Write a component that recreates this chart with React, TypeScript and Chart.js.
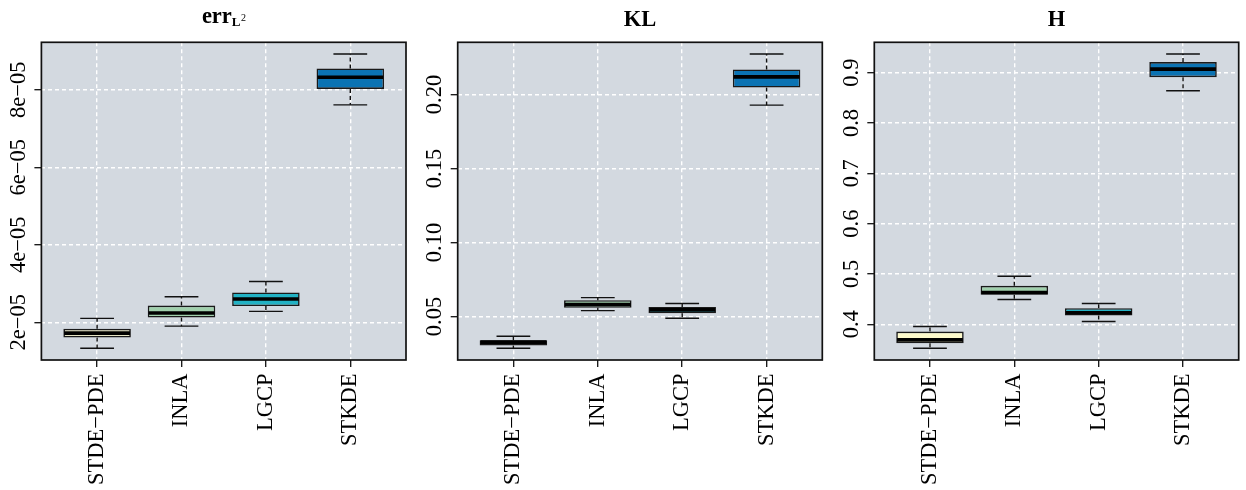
import React, { useEffect, useRef } from 'react';
import { Chart, registerables } from 'chart.js';

Chart.register(...registerables);

const SERIF = '"Liberation Serif", "Times New Roman", Times, serif';

const categories = ['STDE−PDE', 'INLA', 'LGCP', 'STKDE'];
const boxColors = ['#FDFACB', '#A0D0AC', '#22B2C4', '#0B73B3'];

// Panel 1: err_{L^2}
const errLow = [1.33e-5, 1.9e-5, 2.28e-5, 7.61e-5];
const errQ1 = [1.61e-5, 2.12e-5, 2.42e-5, 8.02e-5];
const errMedian = [1.72e-5, 2.24e-5, 2.6e-5, 8.32e-5];
const errQ3 = [1.83e-5, 2.43e-5, 2.77e-5, 8.55e-5];
const errHigh = [2.1e-5, 2.66e-5, 3.05e-5, 8.92e-5];
const errTicks = [2e-5, 4e-5, 6e-5, 8e-5];
const errTickLabels = ['2e−05', '4e−05', '6e−05', '8e−05'];

// Panel 2: KL
const klLow = [0.0286, 0.054, 0.0489, 0.1928];
const klQ1 = [0.0304, 0.0559, 0.0522, 0.2047];
const klMedian = [0.0327, 0.0581, 0.0545, 0.2119];
const klQ3 = [0.034, 0.061, 0.0565, 0.2169];
const klHigh = [0.0367, 0.0628, 0.0588, 0.2273];
const klTicks = [0.05, 0.1, 0.15, 0.2];
const klTickLabels = ['0.05', '0.10', '0.15', '0.20'];

// Panel 3: H
const hLow = [0.3523, 0.4491, 0.4054, 0.864];
const hQ1 = [0.3622, 0.4584, 0.4173, 0.891];
const hMedian = [0.369, 0.463, 0.4227, 0.907];
const hQ3 = [0.3855, 0.4763, 0.4318, 0.921];
const hHigh = [0.3954, 0.4954, 0.4412, 0.937];
const hTicks = [0.4, 0.5, 0.6, 0.7, 0.8, 0.9];
const hTickLabels = ['0.4', '0.5', '0.6', '0.7', '0.8', '0.9'];

const titleErrMain = 'err';
const titleErrSub = 'L';
const titleErrSup = '2';
const titleKL = 'KL';
const titleH = 'H';

const panels = [
  { low: errLow, q1: errQ1, median: errMedian, q3: errQ3, high: errHigh, ticks: errTicks, tickLabels: errTickLabels,
    title: titleErrMain, sub: titleErrSub, sup: titleErrSup, left: 0, width: 415, axisW: 41.4, padR: 9 },
  { low: klLow, q1: klQ1, median: klMedian, q3: klQ3, high: klHigh, ticks: klTicks, tickLabels: klTickLabels,
    title: titleKL, sub: '', sup: '', left: 415, width: 416, axisW: 42.7, padR: 8.7 },
  { low: hLow, q1: hQ1, median: hMedian, q3: hQ3, high: hHigh, ticks: hTicks, tickLabels: hTickLabels,
    title: titleH, sub: '', sup: '', left: 831, width: 415, axisW: 43.3, padR: 7.3 },
];

const H = 490;
const PLOT_TOP = 42.3;
const PLOT_BOTTOM = 360;
const LABEL_FONT = `22.5px ${SERIF}`;

function makePlugin(p: any) {
  return {
    id: 'boxplotDecor',
    beforeDraw(chart: any) {
      const { ctx, chartArea: a } = chart;
      ctx.save();
      ctx.fillStyle = '#D3D9E0';
      ctx.fillRect(a.left, a.top, a.right - a.left, a.bottom - a.top);
      ctx.restore();
    },
    afterDatasetsDraw(chart: any) {
      const { ctx } = chart;
      const xs = chart.scales.x;
      const ys = chart.scales.y;
      ctx.save();
      categories.forEach((_, i) => {
        const xc = xs.getPixelForValue(i + 1);
        const capL = xs.getPixelForValue(i + 1 - 0.2);
        const capR = xs.getPixelForValue(i + 1 + 0.2);
        const boxL = xs.getPixelForValue(i + 1 - 0.4);
        const boxR = xs.getPixelForValue(i + 1 + 0.4);
        const yLo = ys.getPixelForValue(p.low[i]);
        const yQ1 = ys.getPixelForValue(p.q1[i]);
        const yMed = ys.getPixelForValue(p.median[i]);
        const yQ3 = ys.getPixelForValue(p.q3[i]);
        const yHi = ys.getPixelForValue(p.high[i]);
        ctx.strokeStyle = '#111111';
        ctx.lineWidth = 1.4;
        ctx.setLineDash([4, 3]);
        ctx.beginPath();
        ctx.moveTo(xc, yQ3);
        ctx.lineTo(xc, yHi);
        ctx.moveTo(xc, yQ1);
        ctx.lineTo(xc, yLo);
        ctx.stroke();
        ctx.setLineDash([]);
        ctx.beginPath();
        ctx.moveTo(capL, yHi);
        ctx.lineTo(capR, yHi);
        ctx.moveTo(capL, yLo);
        ctx.lineTo(capR, yLo);
        ctx.stroke();
        ctx.strokeStyle = '#000000';
        ctx.lineWidth = 3.6;
        ctx.beginPath();
        ctx.moveTo(boxL + 0.8, yMed);
        ctx.lineTo(boxR - 0.8, yMed);
        ctx.stroke();
      });
      ctx.restore();
    },
    afterDraw(chart: any) {
      const { ctx, chartArea: a } = chart;
      const xs = chart.scales.x;
      const ys = chart.scales.y;
      ctx.save();
      ctx.strokeStyle = '#111111';
      ctx.lineWidth = 1.7;
      ctx.strokeRect(a.left, a.top, a.right - a.left, a.bottom - a.top);

      ctx.fillStyle = '#000000';
      ctx.font = LABEL_FONT;
      // y tick labels
      p.ticks.forEach((t: number, i: number) => {
        const py = ys.getPixelForValue(t);
        ctx.save();
        ctx.translate(a.left - 16.5, py);
        ctx.rotate(-Math.PI / 2);
        ctx.textAlign = 'center';
        ctx.textBaseline = 'alphabetic';
        ctx.fillText(p.tickLabels[i], 0, 0);
        ctx.restore();
      });
      // x tick labels
      categories.forEach((c, i) => {
        const px = xs.getPixelForValue(i + 1);
        ctx.save();
        ctx.translate(px, a.bottom + 13.5);
        ctx.rotate(-Math.PI / 2);
        ctx.textAlign = 'right';
        ctx.textBaseline = 'middle';
        ctx.fillText(c, 0, 0);
        ctx.restore();
      });
      // title
      const cx = (a.left + a.right) / 2;
      ctx.textBaseline = 'alphabetic';
      ctx.textAlign = 'left';
      const f1 = `bold 22.5px ${SERIF}`;
      const f2 = `bold 13px ${SERIF}`;
      const f3 = `10px ${SERIF}`;
      if (p.sub) {
        ctx.font = f1;
        const w1 = ctx.measureText(p.title).width;
        ctx.font = f2;
        const w2 = ctx.measureText(p.sub).width;
        ctx.font = f3;
        const w3 = ctx.measureText(p.sup).width;
        let x = cx - (w1 + w2 + w3) / 2;
        ctx.font = f1;
        ctx.fillText(p.title, x, 22.5);
        x += w1;
        ctx.font = f2;
        ctx.fillText(p.sub, x, 25.7);
        x += w2 + 0.5;
        ctx.font = f3;
        ctx.fillText(p.sup, x, 20.8);
      } else {
        ctx.font = f1;
        ctx.textAlign = 'center';
        ctx.fillText(p.title, cx, 25.7);
      }
      ctx.restore();
    },
  };
}

function buildConfig(p: any): any {
  const lo = Math.min(...p.low);
  const hi = Math.max(...p.high);
  const ext = 0.04 * (hi - lo);
  const gridOpts = {
    display: true,
    color: '#FFFFFF',
    lineWidth: 1.4,
    drawOnChartArea: true,
    drawTicks: true,
    tickLength: 7,
    tickColor: '#111111',
    tickWidth: 1.3,
    tickBorderDash: [],
    offset: false,
  };
  const borderOpts = { display: false, dash: [4, 3] };
  return {
    type: 'bar',
    data: {
      datasets: [
        {
          data: categories.map((_, i) => ({ x: i + 1, y: [p.q1[i], p.q3[i]] })),
          backgroundColor: boxColors,
          borderColor: '#1A1A1A',
          borderWidth: 1.6,
          borderSkipped: false,
          barPercentage: 0.8,
          categoryPercentage: 1,
        },
      ],
    },
    options: {
      animation: false,
      responsive: false,
      events: [],
      layout: { padding: { top: PLOT_TOP, right: p.padR, left: 0, bottom: 0 } },
      plugins: {
        legend: { display: false },
        tooltip: { enabled: false },
        title: { display: false },
      },
      scales: {
        x: {
          type: 'linear',
          min: 0.34,
          max: 4.66,
          offset: false,
          afterBuildTicks: (s: any) => {
            s.ticks = categories.map((_, i) => ({ value: i + 1 }));
          },
          afterFit: (s: any) => {
            s.height = H - PLOT_BOTTOM;
          },
          ticks: { display: false },
          grid: gridOpts,
          border: borderOpts,
        },
        y: {
          type: 'linear',
          min: lo - ext,
          max: hi + ext,
          afterBuildTicks: (s: any) => {
            s.ticks = p.ticks.map((v: number) => ({ value: v }));
          },
          afterFit: (s: any) => {
            s.width = p.axisW;
          },
          ticks: { display: false },
          grid: gridOpts,
          border: borderOpts,
        },
      },
    },
    plugins: [makePlugin(p)],
  };
}

export default function App() {
  const r0 = useRef<HTMLCanvasElement>(null);
  const r1 = useRef<HTMLCanvasElement>(null);
  const r2 = useRef<HTMLCanvasElement>(null);
  const refs = [r0, r1, r2];
  useEffect(() => {
    const charts = panels.map((p, i) => new Chart(refs[i].current as HTMLCanvasElement, buildConfig(p)));
    return () => charts.forEach((c) => c.destroy());
  }, []);
  return (
    <div style={{ position: 'absolute', left: 0, top: 0, width: 1246, height: H, background: '#FFFFFF' }}>
      {panels.map((p, i) => (
        <canvas
          key={i}
          ref={refs[i]}
          width={p.width}
          height={H}
          style={{ position: 'absolute', left: p.left, top: 0, width: p.width, height: H }}
        />
      ))}
    </div>
  );
}
